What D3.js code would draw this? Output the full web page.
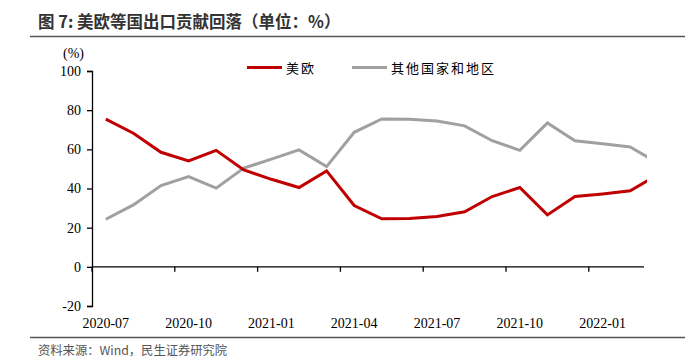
<!DOCTYPE html>
<html><head><meta charset="utf-8">
<script src="https://cdn.jsdelivr.net/npm/d3@7"></script>
<style>body{margin:0;background:#fff;} svg{display:block;}</style>
</head><body>
<svg id="c" width="696" height="361"></svg>
<script>
const months = ["2020-07","2020-08","2020-09","2020-10","2020-11","2020-12","2021-01","2021-02","2021-03","2021-04","2021-05","2021-06","2021-07","2021-08","2021-09","2021-10","2021-11","2021-12","2022-01","2022-02","2022-03"];
const usEu = [75.4,68.2,58.5,54.1,59.5,49.5,44.7,40.5,49.0,31.3,24.5,24.7,25.7,28.1,35.9,40.5,26.5,35.9,37.2,38.8,47.0];
const others = [24.3,31.6,41.5,46.1,40.2,50.4,55.0,59.7,51.2,68.7,75.5,75.3,74.5,72.0,64.4,59.5,73.5,64.4,62.8,61.2,53.0];
const tickLabels = ["2020-07","2020-10","2021-01","2021-04","2021-07","2021-10","2022-01"];
const yTicks = [-20,0,20,40,60,80,100];
const seriesNames = ["美欧","其他国家和地区"];
const colors = ["#C00000","#A0A0A0"];

(function(){
const svg = d3.select("#c");
const mLeft = 92, axisRight = 644, mTop = 71, mBottom = 306;
const nShown = 20;
const bw = (axisRight - mLeft) / nShown;
const x = d3.scaleBand().domain(months).range([mLeft, mLeft + bw * months.length]).padding(0);
const y = d3.scaleLinear().domain([-20,100]).range([mBottom, mTop]);
const serif = "'Liberation Serif','Times New Roman',serif";
const cjk = "'Noto Sans CJK SC','Noto Sans',sans-serif";

// title
svg.append("text").attr("x",38).attr("y",28).attr("font-family",cjk).attr("font-weight","bold")
  .attr("font-size",16.5).attr("fill","#333").text("图 7: 美欧等国出口贡献回落（单位：%）");
svg.append("line").attr("x1",30).attr("x2",685).attr("y1",36.5).attr("y2",36.5).attr("stroke","#555").attr("stroke-width",1.6);
svg.append("line").attr("x1",30).attr("x2",685).attr("y1",337.5).attr("y2",337.5).attr("stroke","#555").attr("stroke-width",1.6);
svg.append("text").attr("x",38).attr("y",355).attr("font-family",cjk).attr("font-size",12.3)
  .attr("fill","#555").text("资料来源：Wind，民生证券研究院");

// y axis
const yAxis = svg.append("g").attr("transform",`translate(${mLeft},0)`)
  .call(d3.axisLeft(y).tickValues(yTicks).tickSize(5).tickPadding(6).tickFormat(d=>String(d)));
yAxis.select(".domain").attr("stroke","#000").attr("stroke-width",1.3);
yAxis.selectAll(".tick line").attr("stroke","#000").attr("stroke-width",1.3);
yAxis.selectAll("text").attr("font-family",serif).attr("font-size",14).attr("fill","#000");
svg.append("text").attr("x",84).attr("y",58).attr("text-anchor","end").attr("font-family",serif)
  .attr("font-size",14).attr("fill","#000").text("(%)");

// x axis at zero
const y0 = y(0);
svg.append("line").attr("x1",mLeft).attr("x2",axisRight).attr("y1",y0).attr("y2",y0).attr("stroke","#000").attr("stroke-width",1.3);
const xg = svg.append("g");
tickLabels.forEach(m => {
  const bx = x(m);
  xg.append("line").attr("x1",bx).attr("x2",bx).attr("y1",y0).attr("y2",y0+5).attr("stroke","#000").attr("stroke-width",1.3);
  xg.append("text").attr("x",bx + x.bandwidth()/2).attr("y",328).attr("text-anchor","middle")
    .attr("font-family",serif).attr("font-size",14).attr("fill","#000").text(m);
});

// clip
svg.append("clipPath").attr("id","pc").append("rect").attr("x",mLeft).attr("y",0).attr("width",647-mLeft).attr("height",361);

const line = d3.line().x((d,i)=>x(months[i]) + x.bandwidth()/2).y(d=>y(d));
const g = svg.append("g").attr("clip-path","url(#pc)");
[[others,1],[usEu,0]].forEach(([s,ci])=>{
  g.append("path").datum(s).attr("d",line).attr("fill","none").attr("stroke",colors[ci])
    .attr("stroke-width",3).attr("stroke-linejoin","miter");
});

// legend
const legX = [247, 352];
seriesNames.forEach((n,i)=>{
  svg.append("line").attr("x1",legX[i]).attr("x2",legX[i]+35).attr("y1",67.5).attr("y2",67.5)
    .attr("stroke",colors[i]).attr("stroke-width",3);
  svg.append("text").attr("x",legX[i]+39).attr("y",72.5).attr("font-family",cjk).attr("font-size",13)
    .attr("fill","#000").attr("letter-spacing",2).text(n);
});
})();
</script>
</body></html>
